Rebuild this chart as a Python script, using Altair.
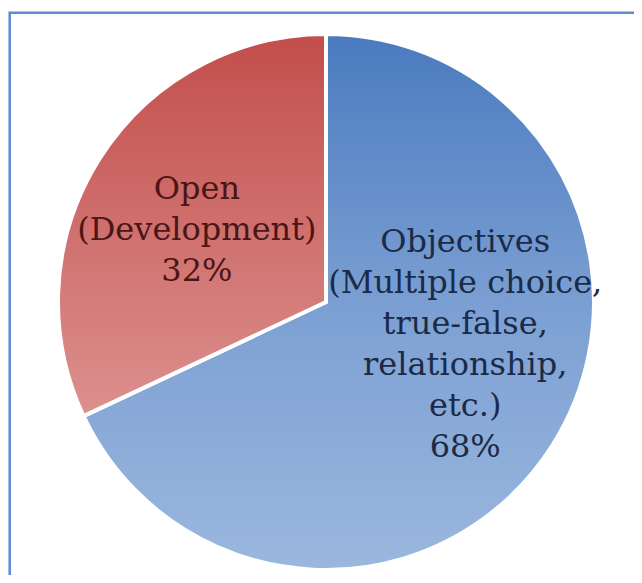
import math
import altair as alt
import pandas as pd

# ---- data ----
categories = [
    "Objectives\n(Multiple choice,\ntrue-false,\nrelationship,\netc.)",
    "Open\n(Development)",
]
values = [68, 32]
order = [0, 1]

df = pd.DataFrame({"category": categories, "value": values, "order": order})

theta_scale = alt.Scale(domain=[0, 100], range=[0, 2 * math.pi])

base = (
    alt.Chart(df)
    .transform_window(cum="sum(value)", sort=[alt.SortField("order")])
    .transform_calculate(
        start="datum.cum - datum.value",
        mid="datum.cum - datum.value / 2",
        label="datum.category + '\\n' + datum.value + '%'",
    )
)

blue_grad = alt.LinearGradient(
    gradient="linear",
    x1=0, x2=0, y1=0, y2=1,
    stops=[
        alt.GradientStop(color="#4a7bbf", offset=0),
        alt.GradientStop(color="#7fa2d4", offset=0.55),
        alt.GradientStop(color="#9ab7de", offset=1),
    ],
)
red_grad = alt.LinearGradient(
    gradient="linear",
    x1=0, x2=0, y1=0, y2=1,
    stops=[
        alt.GradientStop(color="#c24e4b", offset=0),
        alt.GradientStop(color="#dc908e", offset=1),
    ],
)

arc_enc = dict(
    theta=alt.Theta("start:Q", scale=theta_scale, stack=None),
    theta2=alt.Theta2("cum:Q"),
)

arc_obj = (
    base.transform_filter(alt.datum.order == 0)
    .mark_arc(fill=blue_grad, stroke="white", strokeWidth=4, outerRadius=268)
    .encode(**arc_enc)
)
arc_open = (
    base.transform_filter(alt.datum.order == 1)
    .mark_arc(fill=red_grad, stroke="white", strokeWidth=4, outerRadius=268)
    .encode(**arc_enc)
)

txt_common = dict(
    font="DejaVu Serif",
    fontSize=32,
    lineHeight=41,
    lineBreak="\n",
    align="center",
    baseline="middle",
)

txt_obj = (
    base.transform_filter(alt.datum.order == 0)
    .mark_text(color="#1b2b47", dx=21, dy=-135, **txt_common)
    .encode(
        theta=alt.Theta("mid:Q", scale=theta_scale, stack=None),
        radius=alt.value(140),
        text="label:N",
    )
)
txt_open = (
    base.transform_filter(alt.datum.order == 1)
    .mark_text(color="#4a1616", dx=-5, dy=-34, **txt_common)
    .encode(
        theta=alt.Theta("mid:Q", scale=theta_scale, stack=None),
        radius=alt.value(147),
        text="label:N",
    )
)

border = (
    alt.Chart(pd.DataFrame({"k": [0]}))
    .mark_rect(filled=False, stroke="#5b8bd2", strokeWidth=2.5)
    .encode(
        x=alt.value(-8.3),
        y=alt.value(-16.3),
        x2=alt.value(2000),
        y2=alt.value(2000),
    )
)

chart = (
    alt.layer(border, arc_obj, arc_open, txt_obj, txt_open)
    .properties(
        width=616,
        height=546,
        padding={"left": 10, "top": 21, "right": 0, "bottom": 0},
        autosize=alt.AutoSizeParams(type="none"),
        background="white",
    )
    .configure_view(strokeWidth=0)
)

chart.save("out.html", embed_options={"renderer": "svg", "actions": False})
